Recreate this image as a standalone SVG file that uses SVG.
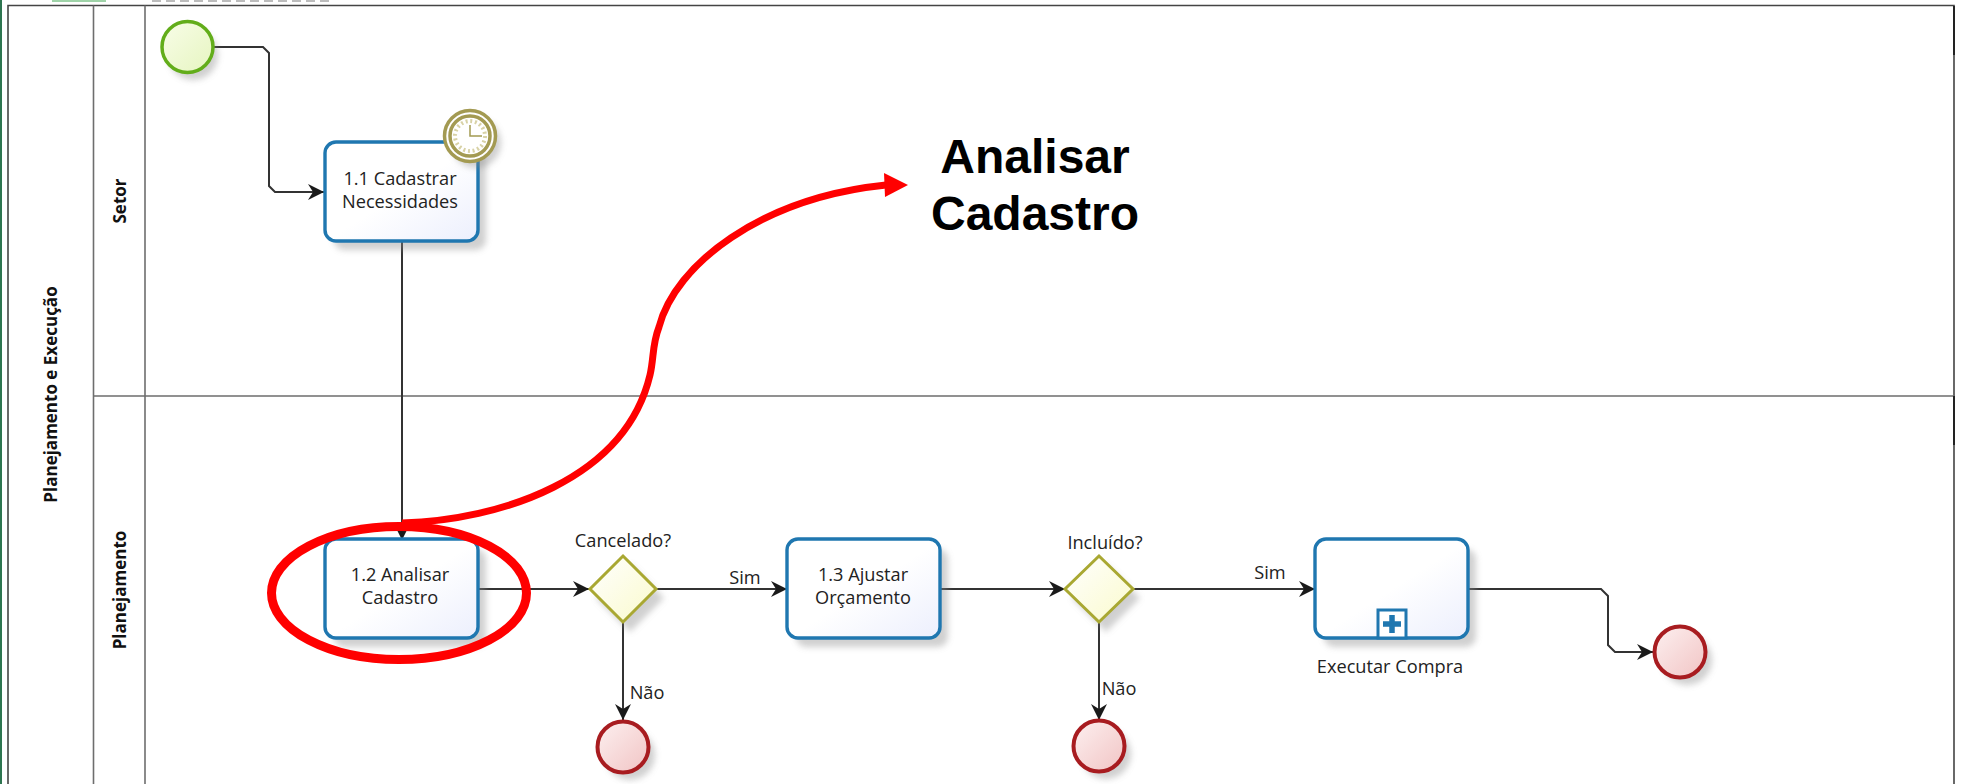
<svg xmlns="http://www.w3.org/2000/svg" width="1961" height="784" viewBox="0 0 1961 784">
<style>
text{font-family:"Open Sans","Noto Sans","DejaVu Sans",sans-serif;fill:#222;font-size:18.200px;text-anchor:middle}
.lane{fill:none;stroke:#6e6e6e;stroke-width:1.6}
.head{font-family:"Open Sans","Noto Sans",sans-serif;font-weight:700;fill:#111;font-size:17px}
.call{font-family:"Liberation Sans",Arial,sans-serif;font-weight:700;fill:#000;font-size:48px}
.task{fill:url(#tg);stroke:#1f77b0;stroke-width:3.4}
.end{fill:url(#eg);stroke:#a81c20;stroke-width:4}
.gw{fill:url(#gg);stroke:#a9a832;stroke-width:3}
.sh{fill:#8a8a8a;opacity:.4;filter:url(#bl)}
.flow{fill:none;stroke:#333;stroke-width:2;marker-end:url(#ah)}
.red{fill:none;stroke:#f00;stroke-width:7}
</style>
<defs>
<linearGradient id="tg" x1="0.1" y1="0.1" x2="1" y2="1"><stop offset="0.45" stop-color="#fff"/><stop offset="1" stop-color="#eceffd"/></linearGradient>
<linearGradient id="eg" x1="0" y1="0" x2="1" y2="1"><stop offset="0" stop-color="#fdf0f0"/><stop offset="1" stop-color="#f1c4c4"/></linearGradient>
<linearGradient id="gg" x1="0" y1="0" x2="1" y2="1"><stop offset="0" stop-color="#fff"/><stop offset="1" stop-color="#fafacc"/></linearGradient>
<linearGradient id="sg" x1="0" y1="0" x2="1" y2="1"><stop offset="0" stop-color="#f8fde8"/><stop offset="1" stop-color="#e6f5c0"/></linearGradient>
<filter id="bl" x="-30%" y="-30%" width="160%" height="160%"><feGaussianBlur stdDeviation="3"/></filter>
<marker id="ah" markerUnits="userSpaceOnUse" markerWidth="18" markerHeight="18" refX="16" refY="9" orient="auto"><path d="M0 1 L16 9 L0 17 L5 9 Z" fill="#1a1a1a"/></marker>
</defs>
<rect width="1961" height="784" fill="#fff"/>
<g id="page-edge">
<rect x="0" y="0" width="2" height="784" fill="#2e7550"/>
<rect x="52" y="0" width="54" height="2" fill="#9fd3a8"/>
<path d="M152 1H330" fill="none" stroke="#a0a0a0" stroke-width="2" stroke-dasharray="9 5" opacity=".7"/>
</g>
<g id="pool">
<path class="lane" style="stroke:#444" d="M8 784V5.500H1954V784"/>
<path class="lane" d="M93.500 5.500V784M145 5.500V784M93.500 396H1954"/>
<path d="M1954 6V55M1954 396V445" fill="none" stroke="#222" stroke-width="2"/>
<text class="head" transform="translate(57 394.500) rotate(-90)">Planejamento e Execução</text>
<text class="head" transform="translate(126 201) rotate(-90)">Setor</text>
<text class="head" transform="translate(126 590) rotate(-90)">Planejamento</text>
</g>
<g id="connectors">
<path class="flow" d="M213 47H263L269 53V186L275 192H324"/>
<path class="flow" d="M402 241V540"/>
<path class="flow" d="M479 589H589"/>
<path class="flow" d="M656 589H787"/>
<path class="flow" d="M623 622V720"/>
<path class="flow" d="M941 589H1065"/>
<path class="flow" d="M1133 589H1315"/>
<path class="flow" d="M1099 622V720"/>
<path class="flow" d="M1469 589H1601L1608 596V645L1615 652H1653"/>
</g>
<g id="start">
<circle class="sh" cx="193" cy="55" r="25"/>
<circle cx="187.500" cy="47" r="25.500" fill="url(#sg)" stroke="#62ad1a" stroke-width="3.500"/>
</g>
<g id="task-1-1">
<rect class="sh" x="334" y="152" width="152" height="98" rx="10"/>
<rect class="task" x="325" y="142" width="153" height="99" rx="11"/>
<text x="400" y="185">1.1 Cadastrar</text>
<text x="400" y="208">Necessidades</text>
<g id="timer">
<circle class="sh" cx="476" cy="143" r="25"/>
<circle cx="470" cy="136" r="25.500" fill="#fff" stroke="#a39a52" stroke-width="3.500"/>
<circle cx="470" cy="136" r="20" fill="#fff" stroke="#a39a52" stroke-width="3.500"/>
<circle cx="470" cy="136" r="15" fill="#fff" stroke="#d8d2a6" stroke-width="4" stroke-dasharray="2 2.700"/>
<path d="M470 125V136H482" fill="none" stroke="#a39a52" stroke-width="1.500"/>
</g>
</g>
<g id="task-1-2">
<rect class="sh" x="334" y="549" width="152" height="98" rx="10"/>
<rect class="task" x="325" y="539" width="153" height="99" rx="11"/>
<text x="400" y="581">1.2 Analisar</text>
<text x="400" y="604">Cadastro</text>
</g>
<g id="gateway-cancelado">
<path class="sh" d="M630 564L664 598L630 632L596 598Z"/>
<path class="gw" d="M623 556L656 589L623 622L590 589Z"/>
<text x="623" y="547">Cancelado?</text>
</g>
<g id="task-1-3">
<rect class="sh" x="796" y="549" width="152" height="98" rx="10"/>
<rect class="task" x="787" y="539" width="153" height="99" rx="11"/>
<text x="863" y="581">1.3 Ajustar</text>
<text x="863" y="604">Orçamento</text>
</g>
<g id="gateway-incluido">
<path class="sh" d="M1106 564L1140 598L1106 632L1072 598Z"/>
<path class="gw" d="M1099 556L1133 589L1099 622L1065 589Z"/>
<text x="1105" y="549">Incluído?</text>
</g>
<g id="subprocess">
<rect class="sh" x="1324" y="549" width="152" height="98" rx="10"/>
<rect class="task" x="1315" y="539" width="153" height="99" rx="11"/>
<rect x="1378" y="610" width="28" height="28" fill="#fff" stroke="#1f77b0" stroke-width="3"/>
<path d="M1392 615V633M1383 624H1401" fill="none" stroke="#1f77b0" stroke-width="5.500"/>
<text x="1390" y="673">Executar Compra</text>
</g>
<g id="end-1">
<circle class="sh" cx="630" cy="755" r="25"/>
<circle class="end" cx="623" cy="747" r="25.500"/>
</g>
<g id="end-2">
<circle class="sh" cx="1106" cy="754" r="25"/>
<circle class="end" cx="1099" cy="746" r="25.500"/>
</g>
<g id="end-3">
<circle class="sh" cx="1687" cy="660" r="25"/>
<circle class="end" cx="1680" cy="652" r="25.500"/>
</g>
<g id="flow-labels">
<text x="745" y="584">Sim</text>
<text x="647" y="699">Não</text>
<text x="1270" y="579">Sim</text>
<text x="1119" y="695">Não</text>
</g>
<g id="callout">
<ellipse class="red" style="stroke-width:9" cx="399" cy="593" rx="127.500" ry="66.500"/>
<path class="red" d="M402 523C500 520 625 480 650 375C654 358 652 345 659 327C675 265 760 198 886 185"/>
<path d="M884 173L908 185L885 197Z" fill="#f00"/>
<text class="call" x="1035" y="173">Analisar</text>
<text class="call" x="1035" y="230">Cadastro</text>
</g>
</svg>
